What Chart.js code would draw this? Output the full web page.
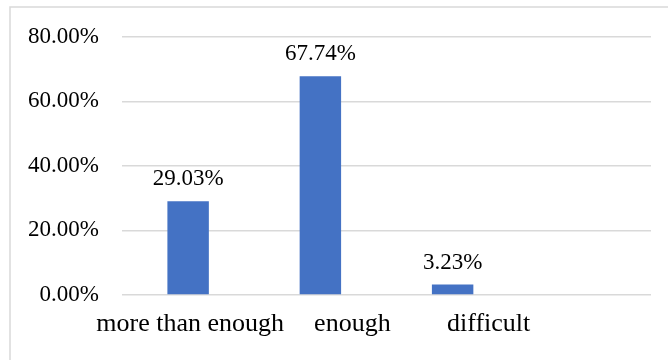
<!DOCTYPE html>
<html>
<head>
<meta charset="utf-8">
<script src="https://cdn.jsdelivr.net/npm/chart.js@4/dist/chart.umd.min.js"></script>
<style>
  html, body { margin: 0; padding: 0; background: #ffffff; }
  #wrap { width: 668px; height: 360px; position: relative; }
</style>
</head>
<body>
<div id="wrap"><canvas id="chart" width="668" height="360"></canvas></div>
<script>
// Survey answers and their shares (percent)
const categories = ['more than enough', 'enough', 'difficult', ''];
const shares = [29.03, 67.74, 3.23, null];
const yTicks = [0, 20, 40, 60, 80];

const SERIF = '"Liberation Serif", "Times New Roman", serif';

// Light frame around the chart
const framePlugin = {
  id: 'frame',
  beforeDraw(chart) {
    const ctx = chart.ctx;
    ctx.save();
    ctx.fillStyle = '#ffffff';
    ctx.fillRect(0, 0, chart.width, chart.height);
    ctx.strokeStyle = '#d9d9d9';
    ctx.lineWidth = 1.5;
    ctx.beginPath();
    ctx.moveTo(10, chart.height + 2);
    ctx.lineTo(10, 7);
    ctx.lineTo(chart.width + 2, 7);
    ctx.stroke();
    ctx.restore();
  }
};

// Value labels above each bar and category names under the axis
const labelPlugin = {
  id: 'labels',
  afterDatasetsDraw(chart, args, opts) {
    const ctx = chart.ctx;
    const meta = chart.getDatasetMeta(0);
    const xScale = chart.scales.x;
    ctx.save();
    ctx.fillStyle = '#000000';
    ctx.textAlign = 'center';
    ctx.textBaseline = 'alphabetic';

    ctx.font = '23px ' + SERIF;
    meta.data.forEach((bar, i) => {
      const v = shares[i];
      if (v === null || v === undefined) return;
      ctx.fillText(v.toFixed(2) + '%', bar.x, bar.y - 16);
    });

    ctx.font = '26px ' + SERIF;
    categories.forEach((name, i) => {
      if (!name) return;
      const x = xScale.getPixelForValue(i) + (opts.shift[i] || 0);
      ctx.fillText(name, x, chart.chartArea.bottom + 36);
    });
    ctx.restore();
  }
};

new Chart(document.getElementById('chart'), {
  type: 'bar',
  data: {
    labels: categories,
    datasets: [{
      data: shares,
      backgroundColor: '#4472c4',
      borderWidth: 0,
      categoryPercentage: 1,
      barPercentage: 0.3135
    }]
  },
  options: {
    responsive: false,
    animation: false,
    layout: { padding: { left: 0, right: 17, top: 36, bottom: 65 } },
    plugins: {
      legend: { display: false },
      tooltip: { enabled: false },
      labels: { shift: [2, 32, 36, 0] }
    },
    scales: {
      x: {
        grid: { display: false },
        border: { display: false },
        ticks: { display: false },
        afterFit(scale) { scale.height = 0; }
      },
      y: {
        min: 0,
        max: 80,
        afterFit(scale) { scale.width = 122; },
        afterBuildTicks(scale) { scale.ticks = yTicks.map(v => ({ value: v })); },
        border: { display: false },
        grid: { color: '#d9d9d9', lineWidth: 1.5, drawTicks: false },
        ticks: {
          padding: 23,
          color: '#000000',
          font: { family: SERIF, size: 23 },
          callback: v => v.toFixed(2) + '%'
        }
      }
    }
  },
  plugins: [framePlugin, labelPlugin]
});
</script>
</body>
</html>
